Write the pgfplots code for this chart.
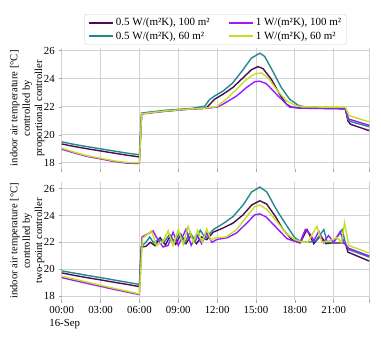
\documentclass[border=0pt]{standalone}
\usepackage{fontspec}
\setmainfont{Liberation Serif}
\usepackage{pgfplots}
\pgfplotsset{compat=1.18}
\definecolor{cdark}{HTML}{4B0C55}
\definecolor{cteal}{HTML}{24898F}
\definecolor{cviol}{HTML}{9A1BFF}
\definecolor{cyell}{HTML}{C4E022}
\pgfplotsset{
  tempax/.style={
    scale only axis, width=307.6pt,
    xmin=0, xmax=23.75,
    xtick={0,3,...,21},
    extra x ticks={23.75}, extra x tick labels={},
    extra x tick style={grid=major},
    ytick={18,20,...,26},
    grid=major, major grid style={black!18, line width=0.8pt},
    axis line style={draw=none},
    tick pos=left, tick align=outside, major tick length=3pt,
    tick style={black!35, line width=0.6pt},
    ticklabel style={font=\fontsize{10.8}{12.3}\selectfont},
    yticklabel style={xshift=-0.5pt},
    /pgf/number format/assume math mode=true,
    every axis y label/.style={at={(axis description cs:-0.112,0.5)}, rotate=90,
      anchor=center, align=center, font=\fontsize{10.6}{12.4}\selectfont},
    every axis plot/.append style={line width=1.4pt},
  }
}
\begin{document}
\begin{tikzpicture}
\useasboundingbox (-61.7pt,-171pt) rectangle (319.3pt,169pt);
% proportional controller
\begin{axis}[tempax, at={(0pt,0pt)}, anchor=south west, height=121.3pt,
  ymin=17.56, ymax=26.22, xticklabels={},
  ylabel={indoor air temperature [°C]\\controlled by\\proportional controller},
  legend columns=2, transpose legend,
  legend style={at={(axis description cs:0.5,1)}, yshift=3pt, anchor=south,
    draw=black!20, rounded corners=2pt, font=\fontsize{11}{13}\selectfont,
    /tikz/every even column/.append style={column sep=16pt}},
  legend cell align=left,
  legend image code/.code={\draw[#1, line width=2.2pt] (0pt,0pt) -- (24pt,0pt);}]
\addplot[cdark] coordinates {(0,19.35)(1,19.16)(2,19.0)(3,18.85)(4,18.7)(5,18.55)(6,18.42)(6.17,21.5)(7,21.6)(8,21.7)(9,21.78)(10,21.85)(11,21.9)(11.2,21.95)(11.8,22.54)(12.46,22.9)(13.2,23.37)(14.0,24.07)(14.65,24.65)(15.16,24.87)(15.55,24.72)(16.2,23.95)(16.83,22.9)(17.35,22.19)(17.73,21.98)(18.5,21.9)(20,21.88)(21.9,21.85)(22.1,21.0)(22.3,20.75)(23.75,20.3)};
\addplot[cteal] coordinates {(0,19.5)(1,19.31)(2,19.15)(3,19.0)(4,18.85)(5,18.7)(6,18.57)(6.17,21.55)(7,21.65)(8,21.75)(9,21.82)(10,21.88)(11.05,22.05)(11.4,22.5)(11.8,22.77)(12.46,23.13)(13.2,23.7)(14.0,24.65)(14.65,25.48)(15.3,25.83)(15.67,25.6)(16.3,24.54)(16.96,23.37)(17.6,22.54)(18.25,22.12)(18.76,22.0)(20,21.95)(21.9,21.93)(22.1,21.1)(22.3,20.95)(23.75,20.58)};
\addplot[cviol] coordinates {(0,18.97)(1,18.7)(2,18.45)(3,18.28)(4,18.1)(5,17.98)(6,17.95)(6.17,21.5)(7,21.58)(8,21.68)(9,21.76)(10,21.84)(11,21.88)(12,21.98)(12.46,22.19)(13.5,22.77)(14.26,23.37)(14.9,23.79)(15.3,23.83)(15.8,23.65)(16.58,22.9)(17.35,22.19)(17.6,21.98)(18.5,21.9)(20,21.9)(21.9,21.9)(22.15,21.13)(23.75,20.68)};
\addplot[cyell] coordinates {(0,19.05)(1,18.75)(2,18.5)(3,18.33)(4,18.15)(5,18.03)(6,18.0)(6.17,21.5)(7,21.6)(8,21.7)(9,21.78)(10,21.85)(11,21.9)(11.95,22.0)(12.7,22.54)(13.5,23.25)(14.26,23.95)(14.9,24.35)(15.42,24.42)(15.93,24.07)(16.58,23.25)(17.35,22.42)(18.12,22.07)(18.8,22.0)(20,21.98)(21.9,21.97)(22.2,21.37)(23.75,20.92)};
\legend{{0.5 W/(m²K), 100 m²}, {0.5 W/(m²K), 60 m²}, {1 W/(m²K), 100 m²}, {1 W/(m²K), 60 m²}}
\end{axis}
% two-point controller
\begin{axis}[tempax, at={(0pt,-131pt)}, anchor=south west, height=118.3pt,
  ymin=17.7, ymax=26.52,
  xticklabels={00:00\\\rlap{16-Sep}, 03:00, 06:00, 09:00, 12:00, 15:00, 18:00, 21:00},
  x tick label style={align=left},
  ylabel={indoor air temperature [°C]\\controlled by\\two-point controller}]
\addplot[cdark] coordinates {(0,19.72)(1,19.53)(2,19.36)(3,19.2)(4,19.03)(5,18.87)(6,18.7)(6.15,21.65)(6.5,21.7)(6.85,22.0)(7.2,21.75)(7.6,22.35)(8.0,21.8)(8.4,22.5)(8.8,21.85)(9.2,22.6)(9.6,21.9)(10.0,22.55)(10.4,21.9)(10.8,22.4)(11.2,22.2)(11.7,22.76)(12.47,23.07)(13.24,23.44)(14.0,24.05)(14.67,24.78)(15.3,25.1)(15.83,24.85)(16.5,23.93)(17.1,22.95)(17.75,22.22)(18.0,22.1)(18.4,21.95)(18.94,22.95)(19.46,21.9)(20.0,22.5)(20.4,21.9)(20.8,21.95)(21.9,21.95)(22.1,21.27)(23.75,20.6)};
\addplot[cteal] coordinates {(0,19.87)(1,19.7)(2,19.53)(3,19.37)(4,19.2)(5,19.03)(6,18.86)(6.15,21.7)(6.5,22.0)(6.8,22.4)(7.1,21.95)(7.5,22.25)(7.9,22.0)(8.3,22.55)(8.7,22.0)(9.1,22.7)(9.5,21.95)(9.9,22.75)(10.3,22.05)(10.7,22.9)(11.1,22.3)(11.7,22.95)(12.47,23.4)(13.24,23.93)(14.0,24.78)(14.67,25.76)(15.3,26.12)(15.83,25.76)(16.6,24.41)(17.4,23.2)(18.0,22.34)(18.4,22.1)(19.0,22.0)(19.6,22.1)(20.24,22.95)(20.5,22.0)(21.0,22.0)(21.66,22.95)(21.9,21.95)(22.15,21.46)(23.75,20.9)};
\addplot[cviol] coordinates {(0,19.37)(1,19.15)(2,18.93)(3,18.72)(4,18.5)(5,18.3)(6,18.1)(6.2,22.4)(7.06,22.85)(7.3,22.4)(7.83,21.65)(8.22,21.77)(8.6,22.75)(9.0,21.78)(9.6,22.96)(10.0,21.77)(10.4,22.6)(10.8,21.9)(11.2,22.7)(11.6,22.0)(12.0,22.22)(12.78,22.34)(13.5,22.7)(14.3,23.44)(14.9,24.05)(15.3,24.12)(15.8,23.88)(16.6,23.07)(17.4,22.27)(17.9,22.1)(18.4,22.0)(18.81,22.95)(19.2,22.6)(19.46,22.1)(19.85,22.83)(20.2,21.98)(20.6,22.5)(21.0,22.0)(21.5,22.8)(21.8,21.95)(22.15,21.56)(23.75,20.98)};
\addplot[cyell] coordinates {(0,19.47)(1,19.25)(2,19.03)(3,18.8)(4,18.58)(5,18.37)(6,18.15)(6.24,22.3)(6.94,22.85)(7.32,21.75)(7.83,22.1)(8.22,22.85)(8.6,21.75)(9.0,22.95)(9.38,21.85)(9.76,23.2)(10.15,22.0)(10.5,22.9)(10.85,22.0)(11.2,23.0)(11.5,22.2)(11.95,22.34)(12.7,22.4)(13.5,22.95)(14.3,23.93)(14.9,24.66)(15.3,24.78)(15.83,24.46)(16.6,23.56)(17.4,22.6)(18.0,22.2)(18.5,22.05)(19.0,22.0)(19.7,23.2)(20.1,22.0)(20.6,22.1)(21.27,22.35)(21.6,22.0)(21.84,23.46)(22.17,21.76)(23.75,21.2)};
\end{axis}
\end{tikzpicture}
\end{document}
